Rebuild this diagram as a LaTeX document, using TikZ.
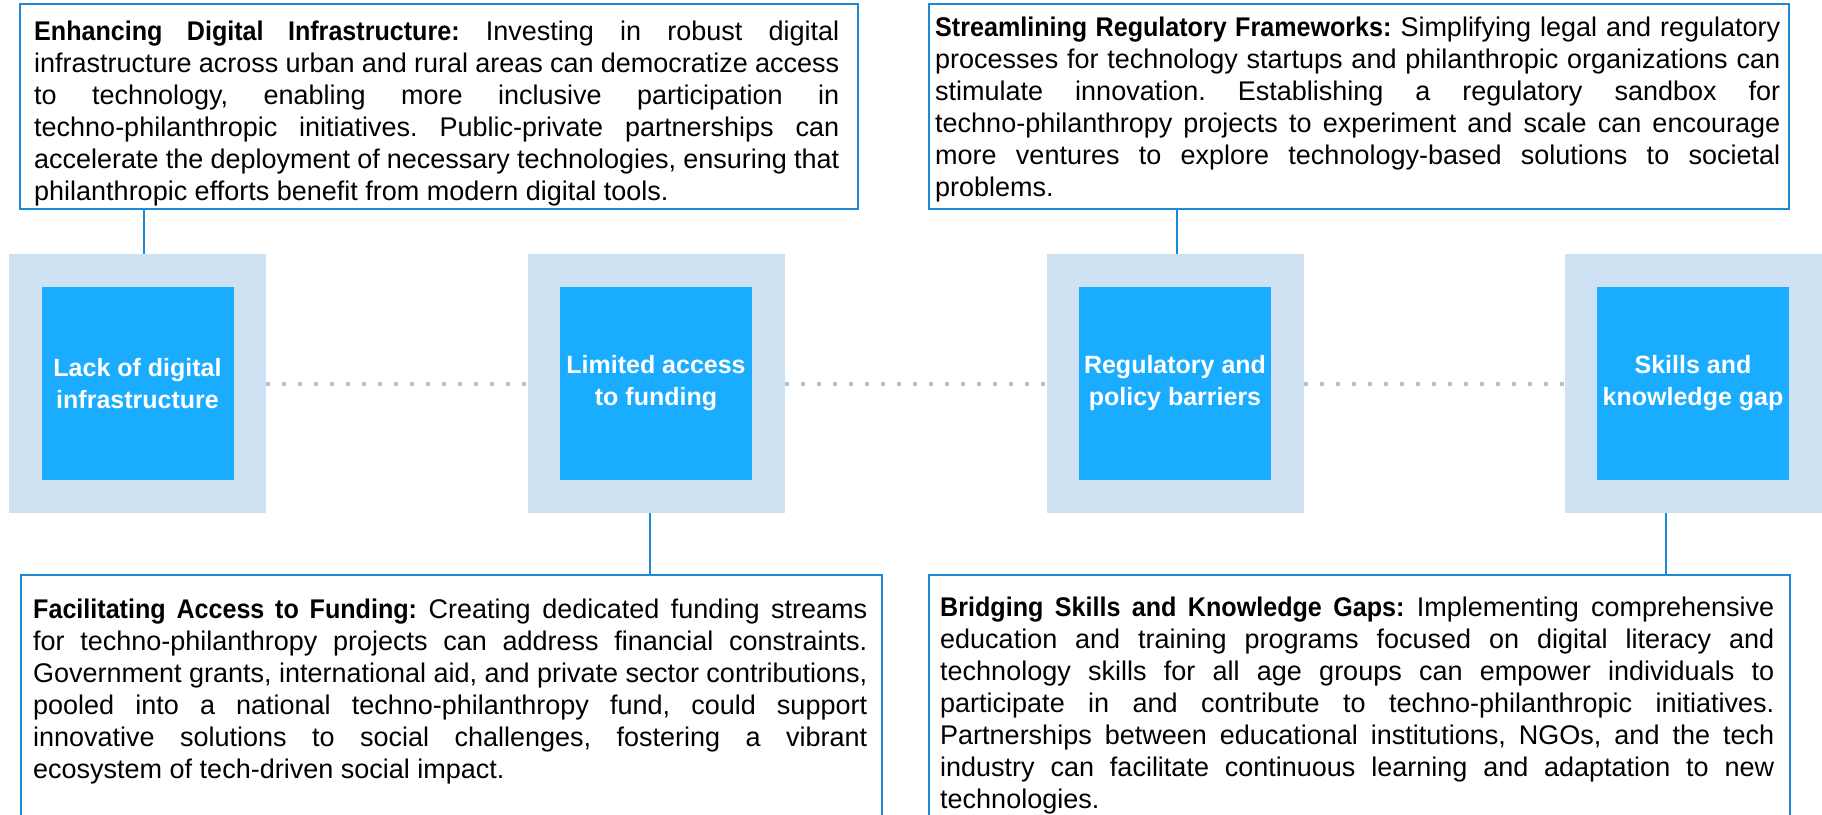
\documentclass[tikz,border=0pt]{standalone}
\usepackage{fontspec}
\setmainfont{Liberation Sans}[BoldFeatures={FakeStretch=0.93}, WordSpace={1,1,1.5}]
\newfontfamily\labelfont{Liberation Sans}
\usepackage{tikz}
\usetikzlibrary{positioning}

\definecolor{frameblue}{HTML}{1B8BD6}
\definecolor{paleblue}{HTML}{CFE2F3}
\definecolor{skyblue}{HTML}{1AADFF}
\definecolor{dotblue}{HTML}{9FC5E8}

\tolerance=10000
\hyphenpenalty=10000
\exhyphenpenalty=10000
\frenchspacing

\tikzset{
  outerbox/.style = {fill=paleblue, minimum width=257pt, minimum height=259pt, inner sep=0pt},
  innerbox/.style = {fill=skyblue, minimum width=192pt, minimum height=193pt, inner sep=0pt,
    text=white, align=center, font=\labelfont\fontsize{25}{32}\selectfont\bfseries},
  textframe/.style = {draw=frameblue, line width=2pt, inner sep=0pt, anchor=north west},
  bodytext/.style = {anchor=north west, inner sep=0pt, align=justify,
    font=\fontsize{27}{32}\selectfont},
  link/.style = {draw=frameblue, line width=2pt},
  dotline/.style = {draw=dotblue, line width=4pt, dash pattern=on 4pt off 12pt}
}

\begin{document}
\begin{tikzpicture}[x=1pt, y=-1pt]
\useasboundingbox (0,0) rectangle (1822,814);
\begin{scope}
\clip (0,0) rectangle (1822,814);

\node[outerbox] (o1) at (137.5,383.5) {};
\node[outerbox] (o2) at (656,383.5) {};
\node[outerbox] (o3) at (1175,383.5) {};
\node[outerbox] (o4) at (1693,383.5) {};
\node[innerbox] (i1) at (o1) {Lack of digital\\infrastructure};
\node[innerbox] (i2) at (o2) {Limited access\\to funding};
\node[innerbox] (i3) at (o3) {Regulatory and\\policy barriers};
\node[innerbox] (i4) at (o4) {Skills and\\knowledge gap};

\foreach \a/\b in {o1/o2, o2/o3, o3/o4}
  \draw[dotline] (\a.east) -- (\b.west);

\node[textframe, minimum width=838pt, minimum height=205pt] (t1) at (19,3) {};
\node[textframe, minimum width=860pt, minimum height=205pt] (t2) at (928,3) {};
\node[textframe, minimum width=861pt, minimum height=300pt] (b1) at (20,574) {};
\node[textframe, minimum width=861pt, minimum height=300pt] (b2) at (928,574) {};

\node[bodytext, text width=805pt] (t1txt) at ([shift={(15,18)}]t1.north west)
  {\textbf{Enhancing Digital Infrastructure:} Investing in robust digital\linebreak
   infrastructure across urban and rural areas can democratize access\linebreak
   to technology, enabling more inclusive participation in\linebreak
   techno-philanthropic initiatives. Public-private partnerships can\linebreak
   accelerate the deployment of necessary technologies, ensuring that\linebreak
   philanthropic efforts benefit from modern digital tools.};
\node[bodytext, text width=845pt] (t2txt) at ([shift={(7,14)}]t2.north west)
  {\textbf{Streamlining Regulatory Frameworks:} Simplifying legal and regulatory\linebreak
   processes for technology startups and philanthropic organizations can\linebreak
   stimulate innovation. Establishing a regulatory sandbox for\linebreak
   techno-philanthropy projects to experiment and scale can encourage\linebreak
   more ventures to explore technology-based solutions to societal\linebreak
   problems.};
\node[bodytext, text width=834pt] (b1txt) at ([shift={(13,25)}]b1.north west)
  {\textbf{Facilitating Access to Funding:} Creating dedicated funding streams\linebreak
   for techno-philanthropy projects can address financial constraints.\linebreak
   Government grants, international aid, and private sector contributions,\linebreak
   pooled into a national techno-philanthropy fund, could support\linebreak
   innovative solutions to social challenges, fostering a vibrant\linebreak
   ecosystem of tech-driven social impact.};
\node[bodytext, text width=834pt] (b2txt) at ([shift={(12,23)}]b2.north west)
  {\textbf{Bridging Skills and Knowledge Gaps:} Implementing comprehensive\linebreak
   education and training programs focused on digital literacy and\linebreak
   technology skills for all age groups can empower individuals to\linebreak
   participate in and contribute to techno-philanthropic initiatives.\linebreak
   Partnerships between educational institutions, NGOs, and the tech\linebreak
   industry can facilitate continuous learning and adaptation to new\linebreak
   technologies.};

\coordinate (j1) at ([xshift=6.5pt]o1.north);
\coordinate (j2) at ([xshift=-6pt]o2.south);
\coordinate (j3) at ([xshift=1.5pt]o3.north);
\coordinate (j4) at ([xshift=-27pt]o4.south);
\draw[link] (j1) -- (j1 |- t1.south);
\draw[link] (j2) -- (j2 |- b1.north);
\draw[link] (j3) -- (j3 |- t2.south);
\draw[link] (j4) -- (j4 |- b2.north);
\end{scope}
\end{tikzpicture}
\end{document}
